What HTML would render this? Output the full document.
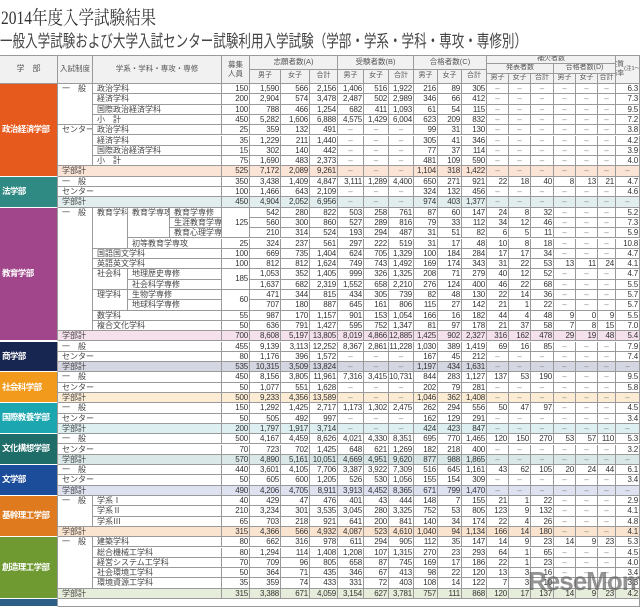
<!DOCTYPE html>
<html><head><meta charset="utf-8">
<style>
body{margin:0;background:#fff;width:640px;height:602px;overflow:hidden;position:relative;font-family:"Liberation Sans","Noto Sans CJK JP",sans-serif;color:#333}
.c{position:absolute;box-sizing:border-box;border-right:1px solid #9a9a9a;border-bottom:1px solid #9a9a9a;font-size:8px;line-height:9.5px;white-space:nowrap;overflow:hidden}
.n{text-align:right;padding-right:1px;letter-spacing:-0.2px}
.d{text-align:center;color:#888}
.h{background:#f1f1f1;color:#555;text-align:center;font-size:8px;display:flex;align-items:center;justify-content:center}
.fac{color:#fff;font-weight:bold;font-size:8.5px;letter-spacing:-0.6px;display:flex;align-items:center;padding-left:2px;border-bottom:1px solid #fff;border-right:1px solid #9a9a9a}
.nm{padding-left:4px;color:#444}
#title,#subtitle{position:absolute;transform-origin:0 0;white-space:nowrap}
</style></head><body>
<div id="title" style="left:1px;top:3px;font-size:19px;font-family:'Liberation Serif','Noto Serif CJK JP',serif;color:#333">2014年度入学試験結果</div>
<div id="subtitle" style="left:0px;top:27px;font-size:17px;font-family:'Liberation Sans','Noto Sans CJK JP',sans-serif;color:#444">一般入学試験および大学入試センター試験利用入学試験（学部・学系・学科・専攻・専修別）</div>
<div id="tbl"></div>
<div style="position:absolute;left:528px;top:566px;font-size:26px;font-weight:bold;color:rgba(90,90,90,0.65);font-family:'Liberation Sans',sans-serif;letter-spacing:-1px">ReseMom</div>
<script>
function fitW(id,w){const e=document.getElementById(id);const s=w/e.offsetWidth;e.style.transform='scaleX('+s+')';}
fitW('title',155);fitW('subtitle',527);
const _=null;
const X=[222,250,281,310,338,364,389,414,438,462,487,509,531,554,576,598,616,640];
const TOP=84, RH=10.3;
const rows=[
[150,1590,566,2156,1406,516,1922,216,89,305,_,_,_,_,_,_,'6.3'],
[200,2904,574,3478,2487,502,2989,346,66,412,_,_,_,_,_,_,'7.3'],
[100,788,466,1254,682,411,1093,61,54,115,_,_,_,_,_,_,'9.5'],
[450,5282,1606,6888,4575,1429,6004,623,209,832,_,_,_,_,_,_,'7.2'],
[25,359,132,491,_,_,_,99,31,130,_,_,_,_,_,_,'3.8'],
[35,1229,211,1440,_,_,_,305,41,346,_,_,_,_,_,_,'4.2'],
[15,302,140,442,_,_,_,77,37,114,_,_,_,_,_,_,'3.9'],
[75,1690,483,2373,_,_,_,481,109,590,_,_,_,_,_,_,'4.0'],
[525,7172,2089,9261,_,_,_,1104,318,1422,_,_,_,_,_,_,_],
[350,3438,1409,4847,3111,1289,4400,650,271,921,22,18,40,8,13,21,'4.7'],
[100,1466,643,2109,_,_,_,324,132,456,_,_,_,_,_,_,'4.6'],
[450,4904,2052,6956,_,_,_,974,403,1377,_,_,_,_,_,_,_],
['S',542,280,822,503,258,761,87,60,147,24,8,32,_,_,_,'5.2'],
['S',560,300,860,527,289,816,79,33,112,34,12,46,_,_,_,'7.3'],
['S',210,314,524,193,294,487,31,51,82,6,5,11,_,_,_,'5.9'],
[25,324,237,561,297,222,519,31,17,48,10,8,18,_,_,_,'10.8'],
[100,669,735,1404,624,705,1329,100,184,284,17,17,34,_,_,_,'4.7'],
[100,812,812,1624,749,743,1492,169,174,343,31,22,53,13,11,24,'4.1'],
['S',1053,352,1405,999,326,1325,208,71,279,40,12,52,_,_,_,'4.7'],
['S',1637,682,2319,1552,658,2210,276,124,400,46,22,68,_,_,_,'5.5'],
['S',471,344,815,434,305,739,82,48,130,22,14,36,_,_,_,'5.7'],
['S',707,180,887,645,161,806,115,27,142,21,1,22,_,_,_,'5.7'],
[55,987,170,1157,901,153,1054,166,16,182,44,4,48,9,0,9,'5.5'],
[50,636,791,1427,595,752,1347,81,97,178,21,37,58,7,8,15,'7.0'],
[700,8608,5197,13805,8019,4866,12885,1425,902,2327,316,162,478,29,19,48,'5.4'],
[455,9139,3113,12252,8367,2861,11228,1030,389,1419,69,16,85,_,_,_,'7.9'],
[80,1176,396,1572,_,_,_,167,45,212,_,_,_,_,_,_,'7.4'],
[535,10315,3509,13824,_,_,_,1197,434,1631,_,_,_,_,_,_,_],
[450,8156,3805,11961,7316,3415,10731,844,283,1127,137,53,190,_,_,_,'9.5'],
[50,1077,551,1628,_,_,_,202,79,281,_,_,_,_,_,_,'5.8'],
[500,9233,4356,13589,_,_,_,1046,362,1408,_,_,_,_,_,_,_],
[150,1292,1425,2717,1173,1302,2475,262,294,556,50,47,97,_,_,_,'4.5'],
[50,505,492,997,_,_,_,162,129,291,_,_,_,_,_,_,'3.4'],
[200,1797,1917,3714,_,_,_,424,423,847,_,_,_,_,_,_,_],
[500,4167,4459,8626,4021,4330,8351,695,770,1465,120,150,270,53,57,110,'5.3'],
[70,723,702,1425,648,621,1269,182,218,400,_,_,_,_,_,_,'3.2'],
[570,4890,5161,10051,4669,4951,9620,877,988,1865,_,_,_,_,_,_,_],
[440,3601,4105,7706,3387,3922,7309,516,645,1161,43,62,105,20,24,44,'6.1'],
[50,605,600,1205,526,530,1056,155,154,309,_,_,_,_,_,_,'3.4'],
[490,4206,4705,8911,3913,4452,8365,671,799,1470,_,_,_,_,_,_,_],
[40,429,47,476,401,43,444,148,7,155,21,1,22,_,_,_,'2.9'],
[210,3234,301,3535,3045,280,3325,752,53,805,123,9,132,_,_,_,'4.1'],
[65,703,218,921,641,200,841,140,34,174,22,4,26,_,_,_,'4.8'],
[315,4366,566,4932,4087,523,4610,1040,94,1134,166,14,180,_,_,_,'4.1'],
[80,662,316,978,611,294,905,112,35,147,14,9,23,14,9,23,'5.3'],
[80,1294,114,1408,1208,107,1315,270,23,293,64,1,65,_,_,_,'4.5'],
[70,709,96,805,658,87,745,169,17,186,22,1,23,_,_,_,'4.0'],
[50,364,71,435,346,67,413,98,22,120,13,3,16,_,_,_,'3.4'],
[35,359,74,433,331,72,403,108,14,122,7,3,10,_,_,_,'3.3'],
[315,3388,671,4059,3154,627,3781,757,111,868,120,17,137,14,9,23,'4.2']
];
const spans=[[12,3,125],[18,2,185],[20,2,60]];
const faculties=[
['政治経済学部',0,8,'#e65a1e','#fbe4d5'],
['法学部',9,11,'#2f8a84','#e2eeee'],
['教育学部',12,24,'#a2468b','#f4e1ec'],
['商学部',25,27,'#172650','#d4d6e2'],
['社会科学部',28,30,'#f29a1c','#fcecd3'],
['国際教養学部',31,33,'#1ca6b0','#ddeff1'],
['文化構想学部',34,36,'#1f6d68','#dbe8e8'],
['文学部',37,39,'#1c4d9b','#dde1f0'],
['基幹理工学部',40,43,'#df7a1f','#fbe4cf'],
['創造理工学部',44,49,'#6e9a31','#e7eddb']
];
const names=[
[58,93,0,3,'一　般'],[93,222,0,0,'政治学科'],[93,222,1,1,'経済学科'],[93,222,2,2,'国際政治経済学科'],[93,222,3,3,'小　計'],
[58,93,4,7,'センター'],[93,222,4,4,'政治学科'],[93,222,5,5,'経済学科'],[93,222,6,6,'国際政治経済学科'],[93,222,7,7,'小　計'],
[58,222,9,9,'一　般'],[58,222,10,10,'センター'],
[58,93,12,23,'一　般'],[93,128,12,15,'教育学科'],[128,170,12,14,'教育学専攻'],[170,222,12,12,'教育学専修'],[170,222,13,13,'生涯教育学専修'],[170,222,14,14,'教育心理学専修'],[128,222,15,15,'初等教育学専攻'],
[93,222,16,16,'国語国文学科'],[93,222,17,17,'英語英文学科'],[93,128,18,19,'社会科'],[128,222,18,18,'地理歴史専修'],[128,222,19,19,'社会科学専修'],
[93,128,20,21,'理学科'],[128,222,20,20,'生物学専修'],[128,222,21,21,'地球科学専修'],[93,222,22,22,'数学科'],[93,222,23,23,'複合文化学科'],
[58,222,25,25,'一　般'],[58,222,26,26,'センター'],
[58,222,28,28,'一　般'],[58,222,29,29,'センター'],
[58,222,31,31,'一　般'],[58,222,32,32,'センター'],
[58,222,34,34,'一　般'],[58,222,35,35,'センター'],
[58,222,37,37,'一　般'],[58,222,38,38,'センター'],
[58,93,40,42,'一　般'],[93,222,40,40,'学系Ⅰ'],[93,222,41,41,'学系Ⅱ'],[93,222,42,42,'学系Ⅲ'],
[58,93,44,48,'一　般'],[93,222,44,44,'建築学科'],[93,222,45,45,'総合機械工学科'],[93,222,46,46,'経営システム工学科'],[93,222,47,47,'社会環境工学科'],[93,222,48,48,'環境資源工学科']
];
const T=document.getElementById('tbl');
function y(r){return TOP+r*RH;}
function cell(x0,y0,w,h,cls,txt,bg){
  const d=document.createElement('div');
  d.className='c '+cls;
  d.style.left=x0+'px';d.style.top=y0+'px';d.style.width=w+'px';d.style.height=h+'px';
  if(bg)d.style.background=bg;
  d.textContent=txt;
  T.appendChild(d);return d;
}
function fmt(v){return v.toLocaleString('en-US');}
function hc(x0,x1,y0,y1,t,name,fs){const d=cell(x0,y0,x1-x0,y1-y0,'h','',null);d.innerHTML=t;


if(fs)d.style.fontSize=fs+'px';d.style.lineHeight='8.5px';}
const top0=document.createElement('div');top0.style.cssText='position:absolute;left:0;top:55px;width:640px;height:1px;background:#9a9a9a';T.appendChild(top0);
hc(0,58,56,84,'学　部','header-faculty');
hc(58,93,56,84,'入試制度','header-exam-type',7.5);
hc(93,222,56,84,'学系・学科・専攻・専修','header-department',7.5);
hc(222,250,56,84,'募集<br>人員','header-quota',7.5);
const groups=[[X[1],X[4],'志願者数(A)'],[X[4],X[7],'受験者数(B)'],[X[7],X[10],'合格者数(C)']];
groups.forEach((g,i)=>hc(g[0],g[1],56,70,g[2],'header-group-'+i,7.5));
hc(X[10],X[16],56,64,'補欠者数','header-waitlist',7);
hc(X[10],X[13],64,74,'発表者数','header-waitlist-announced',7);
hc(X[13],X[16],64,74,'合格者数(D)','header-waitlist-passed',7);
hc(X[16],640,56,84,'実質<br>倍率<br><span style="font-size:5.5px">(注1〜3)</span>','header-ratio',7);
const sub=['男子','女子','合計'];
for(let i=1;i<=15;i++){const yy=i<=9?70:74;hc(X[i],X[i+1],yy,84,sub[(i-1)%3],'header-sub-'+i,7);}
const totalBg={};
faculties.forEach(f=>{totalBg[f[2]]=f[4];});
rows.forEach((r,ri)=>{
  const bg=totalBg[ri]||null;
  for(let ci=0;ci<17;ci++){
    const v=r[ci];
    if(ci===0&&v==='S')continue;
    let x0=X[ci],w=X[ci+1]-X[ci];
    let d;
    if(v===null){d=cell(x0,y(ri),w,RH,'d','–',bg);}
    else{d=cell(x0,y(ri),w,RH,'n',typeof v==='number'?fmt(v):v,bg);}
    
    
  }
});
spans.forEach(s=>{
  const d=cell(X[0],y(s[0]),X[1]-X[0],RH*s[1],'n',s[2],null);
  d.style.display='flex';d.style.alignItems='center';d.style.justifyContent='flex-end';
  
  
});
faculties.forEach(f=>{
  const d=cell(0,y(f[1]),58,RH*(f[2]-f[1]+1),'fac',f[0],f[3]);
  
  
  const t=cell(58,y(f[2]),164,RH,'nm','学部計',f[4]);
  
  
});
names.forEach(n=>{
  const d=cell(n[0],y(n[2]),n[1]-n[0],RH*(n[3]-n[2]+1),'nm',n[4],null);
  
  
});
const p=cell(0,y(50),58,8,'fac','',"#2d5f86");


const pr=cell(58,y(50),582,8,'nm','',null);


</script>
</body></html>
